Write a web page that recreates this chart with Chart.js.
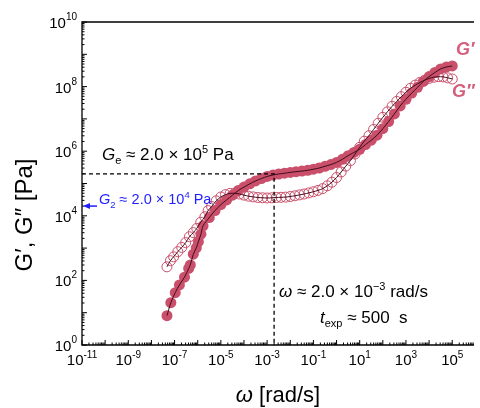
<!DOCTYPE html>
<html>
<head>
<meta charset="utf-8">
<script src="https://cdn.jsdelivr.net/npm/chart.js@4.4.1/dist/chart.umd.min.js"></script>
<style>
    html, body { margin: 0; padding: 0; background: #fff; overflow: hidden; }
    canvas { display: block; }
</style>
</head>
<body>
<canvas id="grafico" width="480" height="408"></canvas>
<script>
// G' (filled circles)
const omegaG1 = [4.7e-8, 6.9e-8, 1.07e-7, 1.62e-7, 2.69e-7, 4.07e-7, 4.79e-7, 6.46e-7, 8.71e-7, 1.07e-6, 1.38e-6, 1.70e-6,
    3.16e-6, 5.62e-6, 1e-5, 1.78e-5, 3.16e-5, 5.62e-5, 1e-4, 1.78e-4, 3.16e-4, 5.62e-4,
    1e-3, 1.78e-3, 3.16e-3, 5.62e-3, 1e-2, 1.78e-2, 3.16e-2, 5.62e-2, 0.1, 0.178, 0.316, 0.562,
    1, 1.78, 3.16, 5.62, 10, 17.8, 31.6, 56.2, 100, 178, 316, 562, 1000, 1780, 3160, 5620,
    1e4, 1.78e4, 3.16e4, 5.62e4, 1e5];
const G1 = [8.1, 20.4, 41.7, 72.4, 126, 234, 302, 646, 1020, 1580, 2690, 4900,
    8850, 14600, 22200, 31100, 43400, 60300, 77400, 98000, 120000, 142000,
    165000, 183000, 197000, 208000, 221000, 232000, 243000, 256000, 277000, 302000, 341000, 385000,
    450000, 561000, 726000, 915000, 1.15e6, 1.60e6, 2.19e6, 3.13e6, 4.98e6, 8.3e6, 1.43e7, 2.52e7, 4.06e7, 6.3e7, 9.5e7, 1.45e8,
    2.04e8, 2.73e8, 3.53e8, 4.05e8, 4.35e8];

// G'' (open circles)
const omegaG2 = [4.68e-8, 6.61e-8, 9.12e-8, 1.38e-7, 2.04e-7, 3.02e-7, 4.37e-7, 6.46e-7, 9.12e-7, 1.35e-6, 2.04e-6, 2.82e-6,
    3.98e-6, 6.31e-6, 1e-5, 1.58e-5, 2.51e-5, 3.98e-5, 6.31e-5, 1e-4, 1.58e-4, 2.51e-4, 3.98e-4, 6.31e-4,
    1e-3, 1.58e-3, 2.51e-3, 3.98e-3, 6.31e-3, 1e-2, 1.58e-2, 2.51e-2, 3.98e-2, 6.31e-2,
    0.1, 0.158, 0.251, 0.398, 0.631, 1, 1.58, 2.51, 3.98, 6.31, 10, 15.8, 25.1, 39.8, 63.1,
    100, 158, 251, 398, 631, 1000, 1580, 2510, 3980, 6310, 1e4, 1.58e4, 2.51e4, 3.98e4, 6.31e4, 1e5];
const G2 = [263, 407, 537, 776, 1050, 1480, 2240, 3020, 4070, 6310, 9330, 14500,
    19400, 29100, 38200, 45200, 49400, 49800, 47300, 43700, 40400, 38500, 36900, 36100,
    35600, 36100, 36900, 37400, 37900, 39600, 41600, 44400, 47300, 51200,
    55600, 61100, 69500, 84900, 110000, 153000, 227000, 346000, 512000, 817000, 1.32e6, 2.04e6, 3.02e6, 4.70e6, 7.31e6,
    1.12e7, 1.66e7, 2.45e7, 3.48e7, 4.87e7, 6.71e7, 8.89e7, 1.11e8, 1.34e8, 1.57e8, 1.79e8, 1.95e8, 2.03e8, 2.00e8, 1.87e8, 1.72e8];

// axis ticks (exponents)
const xTickExp = [-11, -9, -7, -5, -3, -1, 1, 3, 5];
const yTickExp = [0, 2, 4, 6, 8, 10];

// annotations
const omegaExp = 2e-3;
const Ge = 2e5;
const Gsub2 = 2e4;

const FONT = '"Liberation Sans", Arial, "DejaVu Sans", sans-serif';
const rosa = '#c94f6a';

function pontos(xs, ys) {
    return xs.map((x, i) => ({ x: x, y: ys[i] }));
}

// texto com sub/sobrescrito: [texto, tamanho, dy, estilo]
function textoRico(ctx, partes, x, y, align) {
    let w = 0;
    partes.forEach(p => {
        ctx.font = (p[3] || '') + ' ' + p[1] + 'px ' + FONT;
        w += ctx.measureText(p[0]).width;
    });
    let cx = x;
    if (align === 'center') cx = x - w / 2;
    if (align === 'right') cx = x - w;
    ctx.textAlign = 'left';
    ctx.textBaseline = 'alphabetic';
    partes.forEach(p => {
        ctx.font = (p[3] || '') + ' ' + p[1] + 'px ' + FONT;
        ctx.fillText(p[0], cx, y + (p[2] || 0));
        cx += ctx.measureText(p[0]).width;
    });
}

let pluginEixos = {
    id: 'eixos',
    afterDatasetsDraw: function (chart) {
        let ctx = chart.ctx;
        let a = chart.chartArea;
        let sx = chart.scales.x;
        let sy = chart.scales.y;

        ctx.save();

        // linhas tracejadas
        let px = sx.getPixelForValue(omegaExp);
        let py = sy.getPixelForValue(Ge);
        ctx.strokeStyle = '#000';
        ctx.lineWidth = 1.3;
        ctx.setLineDash([4, 3]);
        ctx.beginPath();
        ctx.moveTo(a.left, py);
        ctx.lineTo(px, py);
        ctx.lineTo(px, a.bottom);
        ctx.stroke();
        ctx.setLineDash([]);

        // moldura
        ctx.lineWidth = 1.3;
        ctx.beginPath();
        ctx.moveTo(a.right, a.top);
        ctx.lineTo(a.left, a.top);
        ctx.lineTo(a.left, a.bottom);
        ctx.lineTo(a.right, a.bottom);
        ctx.stroke();

        // ticks
        ctx.lineWidth = 1;
        ctx.beginPath();
        for (let e = -11; e <= 6; e++) {
            for (let k = 1; k <= 9; k++) {
                let v = k * Math.pow(10, e);
                let x = sx.getPixelForValue(v);
                if (x < a.left - 0.5 || x > a.right) continue;
                let len = k === 1 ? 5 : 2.5;
                ctx.moveTo(x, a.bottom);
                ctx.lineTo(x, a.bottom - len);
            }
        }
        for (let e = 0; e <= 10; e++) {
            for (let k = 1; k <= 9; k++) {
                let v = k * Math.pow(10, e);
                let y = sy.getPixelForValue(v);
                if (y < a.top - 0.5 || y > a.bottom + 0.5) continue;
                let len = k === 1 ? 5 : 2.5;
                ctx.moveTo(a.left, y);
                ctx.lineTo(a.left + len, y);
            }
        }
        ctx.stroke();

        // rótulos dos ticks
        ctx.fillStyle = '#000';
        xTickExp.forEach(e => {
            let x = sx.getPixelForValue(Math.pow(10, e));
            textoRico(ctx, [['10', 15, 0], [String(e), 10, -7]], x, a.bottom + 20, 'center');
        });
        yTickExp.forEach(e => {
            let y = sy.getPixelForValue(Math.pow(10, e));
            textoRico(ctx, [['10', 15, 0], [String(e), 10, -8]], a.left - 5, y + 6, 'right');
        });

        // títulos dos eixos
        textoRico(ctx, [['ω', 22, 0, 'italic'], [' [rad/s]', 22, 0]], (a.left + a.right) / 2, 402, 'center');
        ctx.save();
        ctx.translate(32, 215);
        ctx.rotate(-Math.PI / 2);
        textoRico(ctx, [['G\u2032, G\u2033 [Pa]', 24, 0]], 0, 0, 'center');
        ctx.restore();

        // anotações
        textoRico(ctx, [['G', 17, 0, 'italic'], ['e', 11, 4], [' \u2248 2.0 \u00d7 10', 17, 0], ['5', 11, -7], [' Pa', 17, 0]], 102, 160, 'left');

        let pg2 = sy.getPixelForValue(Gsub2);
        ctx.fillStyle = '#1f1fff';
        ctx.strokeStyle = '#1f1fff';
        ctx.lineWidth = 1.5;
        ctx.beginPath();
        ctx.moveTo(97, pg2);
        ctx.lineTo(88, pg2);
        ctx.stroke();
        ctx.beginPath();
        ctx.moveTo(83, pg2);
        ctx.lineTo(90, pg2 - 3);
        ctx.lineTo(90, pg2 + 3);
        ctx.closePath();
        ctx.fill();
        textoRico(ctx, [['G', 14.5, 0, 'italic'], ['2', 9.5, 4], [' \u2248 2.0 \u00d7 10', 14.5, 0], ['4', 9.5, -6], [' Pa', 14.5, 0]], 99, 204, 'left');

        ctx.fillStyle = '#000';
        textoRico(ctx, [['\u03c9', 17, 0, 'italic'], [' \u2248 2.0 \u00d7 10', 17, 0], ['\u22123', 11, -7], [' rad/s', 17, 0]], 279, 297, 'left');
        textoRico(ctx, [['t', 17, 0, 'italic'], ['exp', 11, 4], [' \u2248 500  s', 17, 0]], 320, 323, 'left');

        ctx.fillStyle = '#d45f7b';
        textoRico(ctx, [['G\u2032', 18, 0, 'bold italic']], 456, 55, 'left');
        textoRico(ctx, [['G\u2033', 18, 0, 'bold italic']], 452, 97, 'left');

        ctx.restore();
    }
};

new Chart(document.getElementById('grafico'), {
    type: 'scatter',
    data: {
        datasets: [
            {
                label: 'ajuste G\u2032',
                data: pontos(omegaG1, G1),
                showLine: true,
                borderColor: '#3d0b19',
                borderWidth: 1,
                pointRadius: 0,
                tension: 0.3
            },
            {
                label: 'ajuste G\u2033',
                data: pontos(omegaG2, G2),
                showLine: true,
                borderColor: '#3d0b19',
                borderWidth: 1,
                pointRadius: 0,
                tension: 0.3
            },
            {
                label: 'G\u2033',
                data: pontos(omegaG2, G2),
                showLine: false,
                pointRadius: 5,
                pointBorderWidth: 1,
                pointBorderColor: rosa,
                pointBackgroundColor: 'rgba(255,255,255,0)'
            },
            {
                label: 'G\u2032',
                data: pontos(omegaG1, G1),
                showLine: false,
                pointRadius: 5.5,
                pointBorderWidth: 0,
                pointBorderColor: rosa,
                pointBackgroundColor: rosa
            }
        ]
    },
    options: {
        responsive: false,
        animation: false,
        devicePixelRatio: 1,
        layout: { padding: { left: 82, top: 22, right: 0, bottom: 63 } },
        scales: {
            x: { type: 'logarithmic', display: false, min: 1e-11, max: 8.7e5 },
            y: { type: 'logarithmic', display: false, min: 1, max: 1e10 }
        },
        plugins: {
            legend: { display: false },
            tooltip: { enabled: false }
        }
    },
    plugins: [pluginEixos]
});
</script>
</body>
</html>
